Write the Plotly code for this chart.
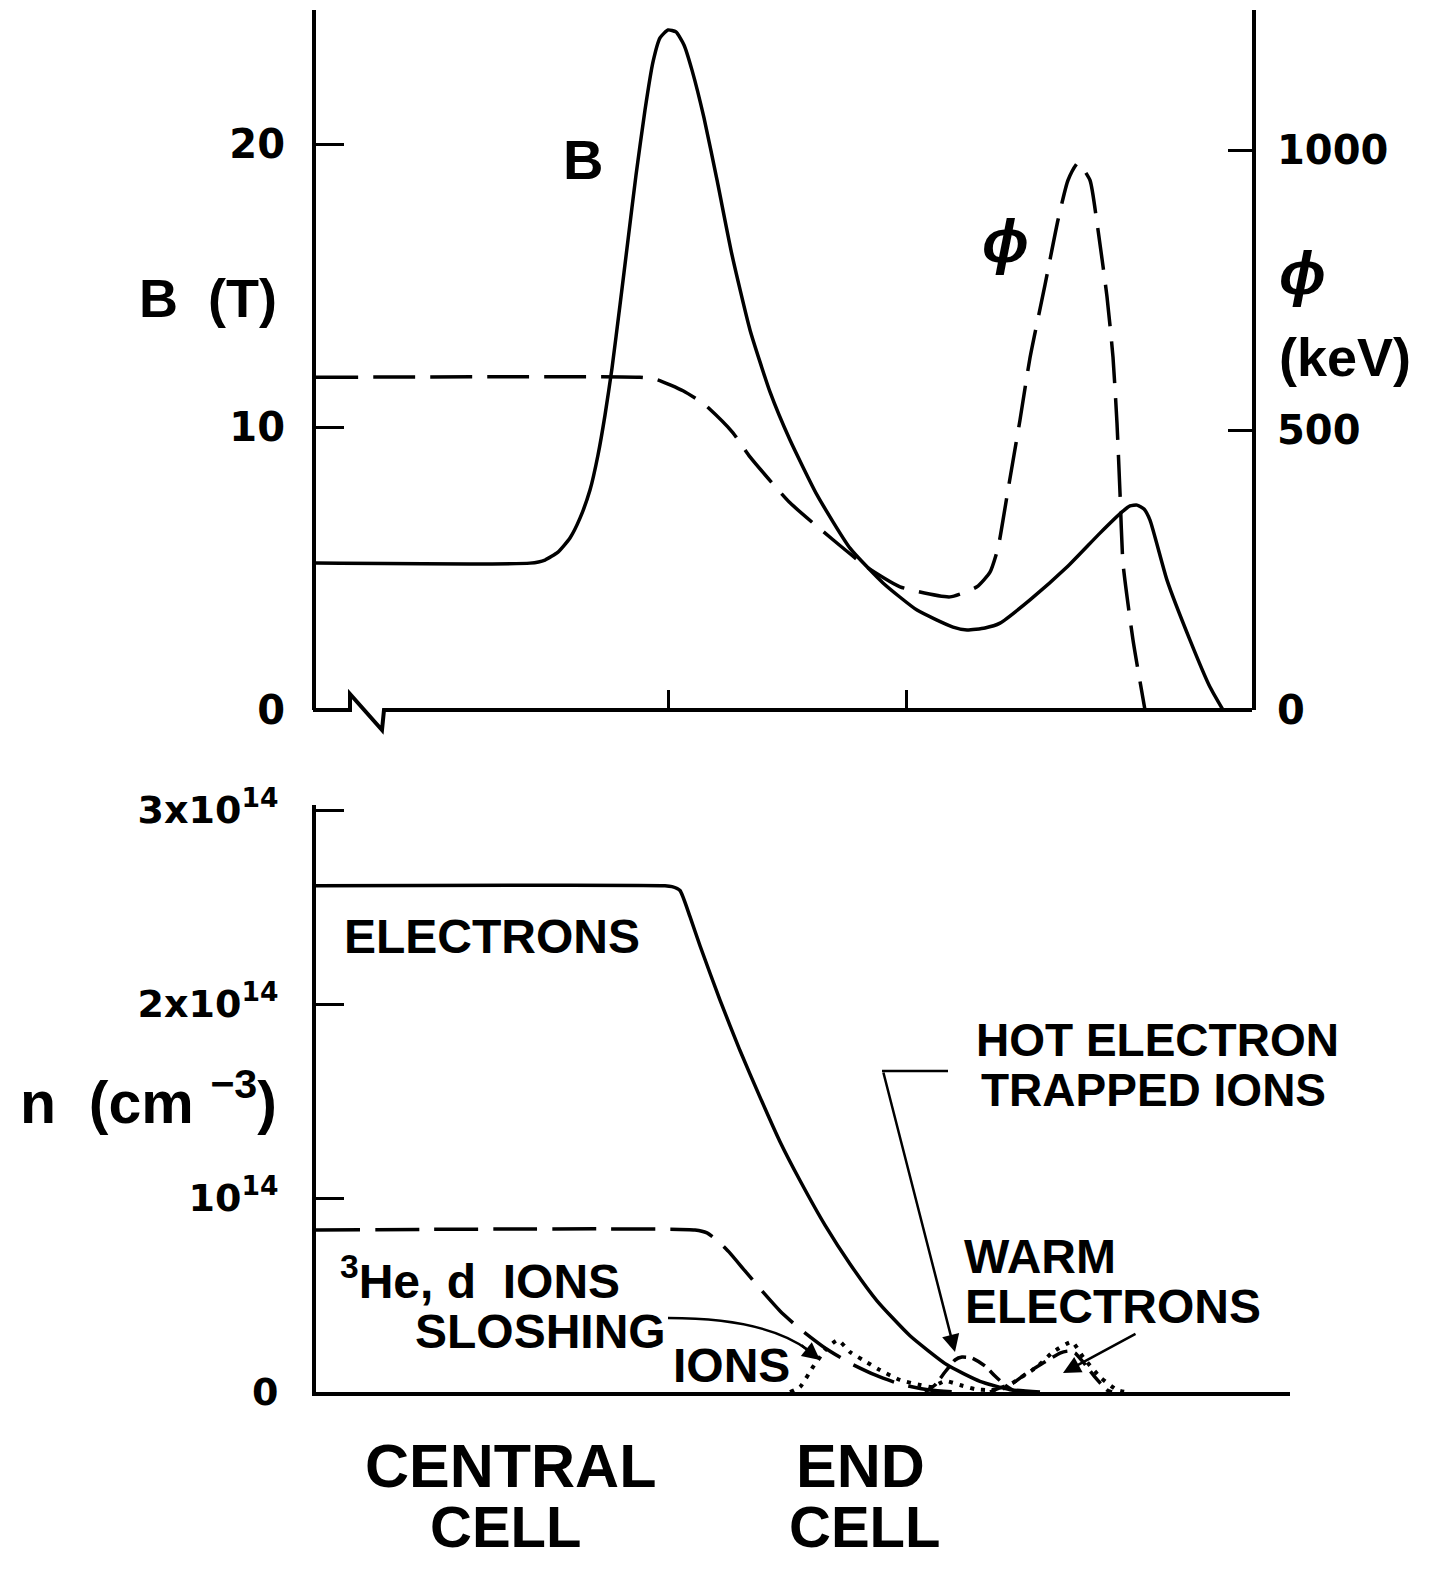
import plotly.graph_objects as go

# page geometry: the page body adds an 8 px margin around the figure
W, H = 1442, 1570
OFF = 8
FW, FH = W - 2 * OFF, H - 2 * OFF

# ---------------- data (axial position z in arbitrary units) ----------------
# Top panel: magnetic field B (T)
b_z = [0, 21.4, 22.9, 24.2, 25.4, 26.4, 27.4, 28.2, 28.9, 29.6, 30.4, 31.2, 32.0, 32.9,
       33.7, 34.4, 35.2, 36.0, 36.8, 37.6, 38.8, 40.1, 41.6, 43.4, 45.4, 47.4, 50.1,
       53.4, 56.7, 60.1, 63.7, 65.1, 66.9, 68.4, 71.4, 75.1, 78.4, 80.6, 81.4, 82.1,
       82.8, 83.4, 85.1, 87.4, 89.4, 90.7]
b_val = [5.19, 5.19, 5.30, 5.58, 6.08, 6.78, 7.77, 9.01, 10.42, 12.08, 14.31, 16.61, 18.90,
         21.20, 22.90, 23.75, 24.03, 23.96, 23.50, 22.61, 20.92, 18.73, 16.08, 13.43,
         11.24, 9.54, 7.60, 5.72, 4.49, 3.53, 2.93, 2.83, 2.90, 3.07, 3.89, 5.05, 6.25,
         7.00, 7.21, 7.24, 7.10, 6.71, 4.59, 2.47, 0.81, 0.0]

# Top panel: potential phi (keV)
phi_z = [0, 32.4, 34.1, 36.7, 38.9, 41.7, 43.4, 47.4, 51.7, 55.1, 58.4, 63.4, 66.1, 67.4,
         68.2, 68.7, 69.2, 70.4, 71.4, 72.9, 74.2, 75.2, 76.2, 77.4, 78.1, 79.1, 79.7,
         80.1, 80.4, 80.7, 81.7, 82.9]
phi_val = [594, 594, 590, 570, 545, 495, 452, 370, 304, 255, 220, 202, 220, 246,
           289, 339, 393, 518, 629, 759, 875, 946, 977, 946, 870, 738, 630,
           512, 388, 262, 125, 0]

# Bottom panel: densities (units of 1e14 cm^-3)
el_z = [0, 34.9, 35.6, 36.4, 37.4, 38.4, 40.4, 42.4, 44.4, 46.4, 48.4, 50.9, 53.4, 56.1,
        59.4, 63.1, 66.4, 69.4, 72.4]
el_n = [2.61, 2.61, 2.605, 2.585, 2.45, 2.30, 2.02, 1.76, 1.52, 1.29, 1.09, 0.86, 0.66,
        0.47, 0.29, 0.14, 0.055, 0.012, 0]

ion_z = [0, 37.9, 39.1, 40.2, 41.4, 42.9, 44.6, 46.4, 48.4, 50.9, 53.4, 55.9, 58.4, 61.4,
         63.9]
ion_n = [0.835, 0.835, 0.820, 0.778, 0.716, 0.624, 0.521, 0.418, 0.325, 0.227, 0.149,
         0.088, 0.041, 0.010, 0]

slosh_z = [47.4, 48.4, 49.7, 51.1, 52.2, 53.4, 54.7, 56.4, 58.4, 60.4, 61.6, 62.9, 64.4,
           65.9, 67.4, 68.9, 70.1, 72.1, 73.7, 75.6, 76.7, 78.4, 80.1, 80.9]
slosh_n = [0, 0.026, 0.129, 0.227, 0.268, 0.206, 0.165, 0.113, 0.062, 0.036, 0.026, 0.057,
           0.036, 0.015, 0.010, 0.021, 0.062, 0.129, 0.206, 0.258, 0.180, 0.077, 0.010, 0]

hot_z = [60.9, 61.9, 62.9, 63.9, 64.6, 65.6, 66.9, 67.9, 68.9, 69.9, 70.9]
hot_n = [0, 0.036, 0.103, 0.165, 0.180, 0.175, 0.134, 0.082, 0.036, 0.005, 0]

warm_z = [67.4, 68.4, 69.7, 71.1, 72.7, 74.4, 75.2, 75.9, 76.7, 77.9, 79.1, 79.6]
warm_n = [0, 0.021, 0.046, 0.098, 0.149, 0.201, 0.211, 0.201, 0.155, 0.077, 0.010, 0]

# tick values / labels
b_ticks = [0, 10, 20]
phi_ticks = [0, 500, 1000]
n_ticks = [0, 1, 2, 3]
n_ticktext = ["<b>0</b>", "<b>10<sup>14</sup></b>", "<b>2x10<sup>14</sup></b>",
              "<b>3x10<sup>14</sup></b>"]
z_ticks = [35.2, 59.0]

FONT = "Liberation Sans, Arial, Helvetica, sans-serif"
TFONT = "DejaVu Sans, Liberation Sans, sans-serif"
LW = 3.5


def px(x):
    return (x - OFF) / FW


def py(y):
    return 1 - (y - OFF) / FH


fig = go.Figure()
sp = dict(shape="spline", smoothing=0.5)
fig.add_trace(go.Scatter(x=b_z, y=b_val, mode="lines", xaxis="x", yaxis="y",
                         line=dict(color="black", width=LW, **sp)))
fig.add_trace(go.Scatter(x=phi_z, y=phi_val, mode="lines", xaxis="x", yaxis="y2",
                         line=dict(color="black", width=LW, dash="42px,15px", **sp)))
fig.add_trace(go.Scatter(x=el_z, y=el_n, mode="lines", xaxis="x2", yaxis="y3",
                         line=dict(color="black", width=LW, **sp)))
fig.add_trace(go.Scatter(x=ion_z, y=ion_n, mode="lines", xaxis="x2", yaxis="y3",
                         line=dict(color="black", width=LW, dash="44px,15px", **sp)))
fig.add_trace(go.Scatter(x=slosh_z, y=slosh_n, mode="lines", xaxis="x2", yaxis="y3",
                         line=dict(color="black", width=4, dash="4px,7px", **sp)))
fig.add_trace(go.Scatter(x=hot_z, y=hot_n, mode="lines", xaxis="x2", yaxis="y3",
                         line=dict(color="black", width=LW, dash="14px,7px", **sp)))
fig.add_trace(go.Scatter(x=warm_z, y=warm_n, mode="lines", xaxis="x2", yaxis="y3",
                         line=dict(color="black", width=LW, dash="16px,8px", **sp)))

tickfont = dict(family=TFONT, size=40, color="black")
common = dict(showgrid=False, zeroline=False, linecolor="black", tickcolor="black",
              automargin=False)

fig.update_layout(
    template="none",
    width=FW, height=FH,
    margin=dict(l=0, r=0, t=0, b=0, pad=0),
    paper_bgcolor="white", plot_bgcolor="white",
    showlegend=False,
    font=dict(family=FONT, color="black"),
    xaxis=dict(domain=[px(316), px(1252)], range=[0, 93.6], anchor="y",
               showline=False, tickvals=z_ticks, ticks="inside", ticklen=20,
               tickwidth=3, showticklabels=False, **common),
    yaxis=dict(domain=[py(710), py(10)], range=[0, 700 / 28.3], anchor="x",
               showline=True, linewidth=4, tickvals=b_ticks,
               ticktext=["<b>%d</b>" % v for v in b_ticks], ticks="inside",
               ticklen=28, tickwidth=3, ticklabelstandoff=19, tickfont=tickfont,
               **common),
    yaxis2=dict(overlaying="y", side="right", anchor="x", range=[0, 1250],
                showline=True, linewidth=4, tickvals=phi_ticks,
                ticktext=["<b>%d</b>" % v for v in phi_ticks], ticks="inside",
                ticklen=24, tickwidth=3, ticklabelstandoff=13, tickfont=tickfont,
                **common),
    xaxis2=dict(domain=[px(316), px(1290)], range=[0, 97.4], anchor="y3",
                showline=True, linewidth=4, ticks="", showticklabels=False, **common),
    yaxis3=dict(domain=[py(1392), py(805)], range=[0, 587 / 194], anchor="x2",
                showline=True, linewidth=4, tickvals=n_ticks, ticktext=n_ticktext,
                ticks="inside", ticklen=28, tickwidth=3, ticklabelstandoff=26,
                tickfont=dict(family=TFONT, size=38, color="black"), **common),
)

# axis break on the top panel's horizontal axis
brk = [(313, 710), (350, 710), (350, 694), (382, 730), (384, 710), (1252, 710)]
path = "M " + " L ".join("%.5f,%.5f" % (px(a), py(b)) for a, b in brk)
shapes = [dict(type="path", path=path, xref="paper", yref="paper",
               line=dict(color="black", width=4))]
# leader line for HOT ELECTRON label
shapes.append(dict(type="line", xref="paper", yref="paper", x0=px(948), y0=py(1071),
                   x1=px(882), y1=py(1071), line=dict(color="black", width=2.5)))
# curved leader for SLOSHING IONS
shapes.append(dict(type="path", xref="paper", yref="paper",
                   path="M %.5f,%.5f Q %.5f,%.5f %.5f,%.5f" % (
                       px(668), py(1318), px(765), py(1318), px(808), py(1350)),
                   line=dict(color="black", width=2.5)))
fig.update_layout(shapes=shapes)

ann = []


def label(text, x, y, size):
    ann.append(dict(text="<b>%s</b>" % text, x=px(x), y=py(y), xref="paper",
                    yref="paper", showarrow=False, xanchor="center", yanchor="middle",
                    font=dict(family=FONT, size=size, color="black")))


label("B", 583, 160, 56)
label("<i>ϕ</i>", 1005, 240, 62)
label("B  (T)", 208, 298, 54)
label("<i>ϕ</i>", 1302, 272, 62)
label("(keV)", 1345, 357, 54)
label("ELECTRONS", 492, 937, 48)
label("<sup>3</sup>He, d  IONS", 480, 1278, 48)
label("SLOSHING", 540, 1331, 48)
label("IONS", 731, 1365, 48)
label("HOT ELECTRON", 1157, 1040, 46)
label("TRAPPED IONS", 1153, 1090, 46)
label("WARM", 1040, 1256, 48)
label("ELECTRONS", 1113, 1306, 48)
label("n  (cm <sup>−3</sup>)", 148, 1098, 59)
label("CENTRAL", 510, 1466, 61)
label("CELL", 505, 1526, 58)
label("END", 860, 1466, 61)
label("CELL", 864, 1526, 58)


def arrow(x0, y0, x1, y1):
    ann.append(dict(text="", x=px(x1), y=py(y1), xref="paper", yref="paper",
                    ax=x0 - x1, ay=y0 - y1, axref="pixel", ayref="pixel",
                    showarrow=True, arrowhead=2, arrowsize=1.4, arrowwidth=2.5,
                    arrowcolor="black", standoff=0))


arrow(883, 1071, 955, 1352)
arrow(800, 1344, 820, 1360)
arrow(1137, 1333, 1063, 1373)

fig.update_layout(annotations=ann)
fig.write_html("out.html")
